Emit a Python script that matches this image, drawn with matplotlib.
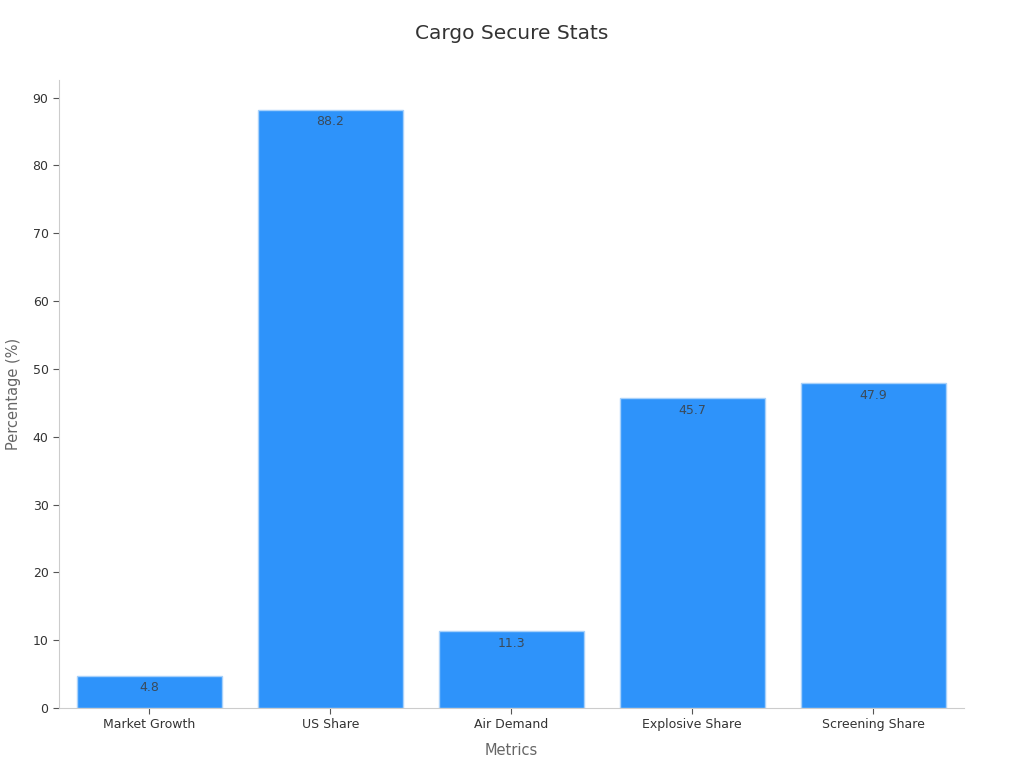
import matplotlib.pyplot as plt

# data
categories = ['Market Growth', 'US Share', 'Air Demand', 'Explosive Share', 'Screening Share']
values = [4.8, 88.2, 11.3, 45.7, 47.9]

fig = plt.figure(figsize=(10.24, 7.68), dpi=100)
ax = fig.add_axes([0.0576, 0.078, 0.8835, 0.818])

bars = ax.bar(categories, values, width=0.8, color='#2E93FA',
              edgecolor='#A8D1FA', linewidth=1.0)

for b, v in zip(bars, values):
    ax.text(b.get_x() + b.get_width() / 2, v - 0.8, f'{v}',
            ha='center', va='top', fontsize=9, color='#3a4a5a')

ax.set_xlim(-0.5, 4.5)
ax.set_ylim(0, max(values) * 1.05)
ax.set_yticks(range(0, 91, 10))

for s in ['top', 'right']:
    ax.spines[s].set_visible(False)
for s in ['left', 'bottom']:
    ax.spines[s].set_color('#cccccc')
    ax.spines[s].set_linewidth(0.8)

ax.tick_params(axis='both', labelsize=9, labelcolor='#333333', color='#555555',
               length=4, width=0.8)
ax.tick_params(axis='x', pad=3)

ax.set_xlabel('Metrics', fontsize=10.5, color='#666666', labelpad=9)
ax.set_ylabel('Percentage (%)', fontsize=10.5, color='#666666', labelpad=8)

fig.text(0.5, 0.957, 'Cargo Secure Stats', ha='center', va='center',
         fontsize=14.5, color='#333333')

fig.savefig('out.png', dpi=100)
